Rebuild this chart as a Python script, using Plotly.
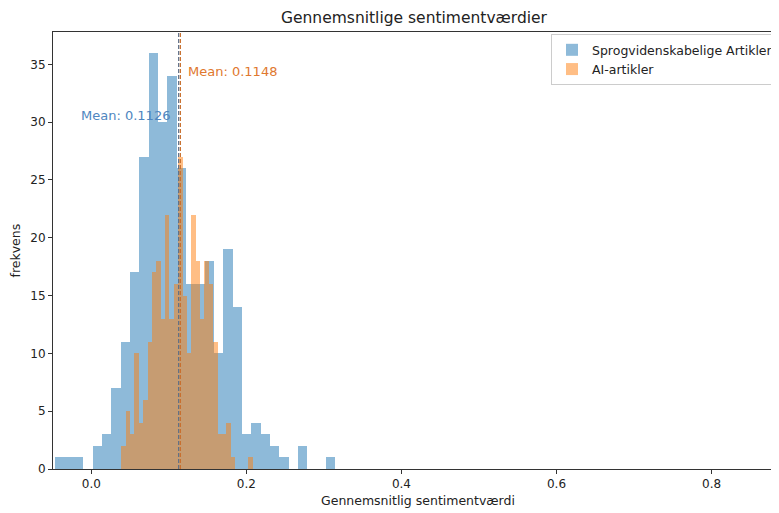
import numpy as np
import plotly.graph_objects as go

# ---- data ----
series_names = ["Sprogvidenskabelige Artikler", "AI-artikler"]
blue_counts = [1, 1, 1, 0, 2, 3, 7, 11, 17, 27, 36, 30, 34, 26, 16, 16, 18, 10, 19, 14,
               3, 4, 3, 2, 1, 0, 2, 0, 0, 1]
blue_range = [-0.0465, 0.3148]
orange_counts = [2, 5, 3, 10, 4, 6, 11, 17, 18, 13, 22, 13, 16, 27, 15, 10, 22, 18, 13, 18,
                 16, 11, 3, 3, 4, 1, 0, 0, 0, 1]
orange_range = [0.0387, 0.2079]
means = [0.1126, 0.1148]
x_ticks = [0.0, 0.2, 0.4, 0.6, 0.8]
x_tick_labels = ["0.0", "0.2", "0.4", "0.6", "0.8"]
y_ticks = [0, 5, 10, 15, 20, 25, 30, 35]

colors = ["#1f77b4", "#ff7f0e"]
text_colors = ["#4f86c0", "#e0782e"]
line_colors = ["#5d6f88", "#c8702e"]
FONT = "DejaVu Sans"


def bins(counts, rng):
    edges = np.linspace(rng[0], rng[1], len(counts) + 1)
    centers = (edges[:-1] + edges[1:]) / 2
    width = edges[1] - edges[0]
    return centers, width


fig = go.Figure()
for counts, rng, name, col in [(blue_counts, blue_range, series_names[0], colors[0]),
                               (orange_counts, orange_range, series_names[1], colors[1])]:
    c, w = bins(counts, rng)
    fig.add_trace(go.Bar(x=c, y=counts, width=w, name=name, opacity=0.5,
                         marker=dict(color=col, line=dict(width=0))))

# mean lines
for m, col in zip(means, line_colors):
    fig.add_shape(type="line", xref="x", yref="paper", x0=m, x1=m, y0=0, y1=1,
                  line=dict(color=col, width=1.2, dash="4px,2px"))

# mean labels
fig.add_annotation(x=-0.0155, y=30.55, xref="x", yref="y", text=f"Mean: {means[0]:.4f}",
                   showarrow=False, xanchor="left", yanchor="middle",
                   font=dict(family=FONT, size=13, color=text_colors[0]))
fig.add_annotation(x=0.1223, y=34.36, xref="x", yref="y", text=f"Mean: {means[1]:.4f}",
                   showarrow=False, xanchor="left", yanchor="middle",
                   font=dict(family=FONT, size=13, color=text_colors[1]))

# title and axis titles
fig.add_annotation(x=0.498, y=1.033, xref="paper", yref="paper",
                   text="Gennemsnitlige sentimentværdier", showarrow=False,
                   xanchor="center", yanchor="middle",
                   font=dict(family=FONT, size=15.5, color="#222"))
fig.add_annotation(x=0.503, y=-0.072, xref="paper", yref="paper",
                   text="Gennemsnitlig sentimentværdi", showarrow=False,
                   xanchor="center", yanchor="middle",
                   font=dict(family=FONT, size=12.5, color="#222"))
fig.add_annotation(x=-0.051, y=0.5, xref="paper", yref="paper",
                   text="frekvens", showarrow=False, textangle=-90,
                   xanchor="center", yanchor="middle",
                   font=dict(family=FONT, size=12.5, color="#222"))

# the page body adds an 8px offset, so the figure is sized to fill the rest of the window
fig.update_layout(
    width=771, height=505,
    margin=dict(l=45, r=0, t=24, b=43.5, autoexpand=False),
    paper_bgcolor="white", plot_bgcolor="white",
    barmode="overlay", bargap=0,
    font=dict(family=FONT, size=13, color="#222"),
    showlegend=True,
    legend=dict(x=1.0, y=0.995, xanchor="right", yanchor="top",
                bgcolor="rgba(255,255,255,0.8)", bordercolor="#cccccc", borderwidth=1,
                font=dict(family=FONT, size=12.5, color="#222"),
                tracegroupgap=0, itemwidth=30),
    xaxis=dict(range=[-0.0495, 0.887], tickvals=x_ticks, ticktext=x_tick_labels,
               automargin=False,
               showgrid=False, zeroline=False, showline=True, linecolor="#333",
               linewidth=1, mirror=True, ticks="outside", ticklen=4, tickcolor="#333",
               tickfont=dict(family=FONT, size=12, color="#222")),
    yaxis=dict(range=[0, 37.8], tickvals=y_ticks, showgrid=False, zeroline=False,
               automargin=False,
               showline=True, linecolor="#333", linewidth=1, mirror=False,
               ticks="outside", ticklen=4, tickcolor="#333",
               tickfont=dict(family=FONT, size=12, color="#222")),
)

fig.write_html("out.html")
